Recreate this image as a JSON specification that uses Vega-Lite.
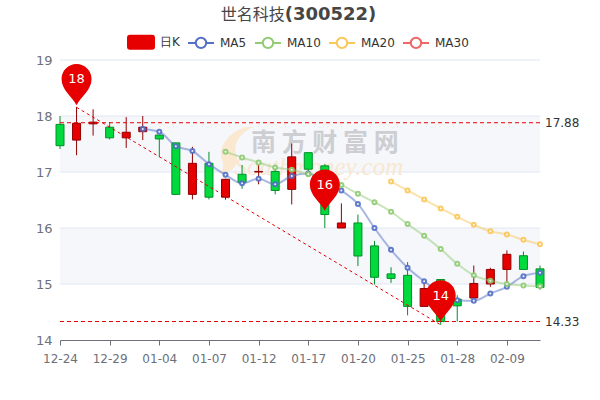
{
"$schema":"https://vega.github.io/schema/vega-lite/v6.json",
"width":480,"height":280,"autosize":"none","padding":{"left":60,"top":60,"right":60,"bottom":60},
"background":"white",
"config":{"view":{"stroke":null},"font":"DejaVu Sans","axisY":{"tickCount":5,"format":"d","grid":false,"domain":false,"ticks":false,"labelColor":"#6e7079","labelFontSize":13,"labelPadding":8}},
"datasets":{
"bands":[{"d":"12-24","d2":"02-18","a":17,"b":18},{"d":"12-24","d2":"02-18","a":15,"b":16}],
"grid":[{"d":"12-24","d2":"02-18","v":15},{"d":"12-24","d2":"02-18","v":16},{"d":"12-24","d2":"02-18","v":17},{"d":"12-24","d2":"02-18","v":18},{"d":"12-24","d2":"02-18","v":19}],
"k":[
{"d":"12-24","o":17.47,"c":17.85,"h":18.0,"l":17.41,"up":false},
{"d":"12-25","o":17.57,"c":17.87,"h":18.16,"l":17.3,"up":true},
{"d":"12-28","o":17.86,"c":17.89,"h":18.12,"l":17.65,"up":true},
{"d":"12-29","o":17.8,"c":17.61,"h":17.89,"l":17.58,"up":false},
{"d":"12-30","o":17.61,"c":17.71,"h":17.98,"l":17.43,"up":true},
{"d":"12-31","o":17.72,"c":17.8,"h":18.0,"l":17.57,"up":true},
{"d":"01-04","o":17.66,"c":17.59,"h":17.66,"l":17.27,"up":false},
{"d":"01-05","o":17.52,"c":16.6,"h":17.52,"l":16.6,"up":false},
{"d":"01-06","o":16.6,"c":17.155,"h":17.45,"l":16.51,"up":true},
{"d":"01-07","o":17.155,"c":16.55,"h":17.36,"l":16.51,"up":false},
{"d":"01-08","o":16.55,"c":16.87,"h":16.88,"l":16.505,"up":true},
{"d":"01-11","o":16.96,"c":16.81,"h":17.125,"l":16.7,"up":false},
{"d":"01-12","o":17.0,"c":17.01,"h":17.125,"l":16.78,"up":true},
{"d":"01-13","o":17.01,"c":16.67,"h":17.12,"l":16.6,"up":false},
{"d":"01-14","o":16.69,"c":17.27,"h":17.51,"l":16.42,"up":true},
{"d":"01-17","o":17.345,"c":17.05,"h":17.345,"l":16.95,"up":false},
{"d":"01-18","o":17.11,"c":16.24,"h":17.14,"l":16.0,"up":false},
{"d":"01-19","o":16.0,"c":16.09,"h":16.44,"l":16.0,"up":true},
{"d":"01-20","o":16.09,"c":15.5,"h":16.24,"l":15.32,"up":false},
{"d":"01-21","o":15.68,"c":15.12,"h":15.77,"l":14.99,"up":false},
{"d":"01-22","o":15.18,"c":15.1,"h":15.3,"l":15.02,"up":false},
{"d":"01-25","o":15.155,"c":14.6,"h":15.39,"l":14.44,"up":false},
{"d":"01-26","o":14.6,"c":14.92,"h":15.0,"l":14.6,"up":true},
{"d":"01-27","o":15.08,"c":14.33,"h":15.08,"l":14.27,"up":false},
{"d":"01-28","o":14.73,"c":14.61,"h":14.8,"l":14.33,"up":false},
{"d":"01-29","o":14.75,"c":15.01,"h":15.33,"l":14.75,"up":true},
{"d":"02-01","o":15.0,"c":15.26,"h":15.29,"l":14.95,"up":true},
{"d":"02-09","o":15.26,"c":15.53,"h":15.6,"l":15.02,"up":true},
{"d":"02-10","o":15.505,"c":15.26,"h":15.58,"l":15.26,"up":false},
{"d":"02-18","o":15.27,"c":14.94,"h":15.33,"l":14.9,"up":false}
],
"ma":[
{"d":"12-31","s":"MA5","v":17.77},{"d":"01-04","s":"MA5","v":17.72},{"d":"01-05","s":"MA5","v":17.46},{"d":"01-06","s":"MA5","v":17.375},{"d":"01-07","s":"MA5","v":17.14},{"d":"01-08","s":"MA5","v":16.95},{"d":"01-11","s":"MA5","v":16.8},{"d":"01-12","s":"MA5","v":16.88},{"d":"01-13","s":"MA5","v":16.78},{"d":"01-14","s":"MA5","v":16.93},{"d":"01-17","s":"MA5","v":16.975},{"d":"01-18","s":"MA5","v":16.84},{"d":"01-19","s":"MA5","v":16.67},{"d":"01-20","s":"MA5","v":16.43},{"d":"01-21","s":"MA5","v":16.0},{"d":"01-22","s":"MA5","v":15.61},{"d":"01-25","s":"MA5","v":15.29},{"d":"01-26","s":"MA5","v":15.05},{"d":"01-27","s":"MA5","v":14.84},{"d":"01-28","s":"MA5","v":14.71},{"d":"01-29","s":"MA5","v":14.7},{"d":"02-01","s":"MA5","v":14.83},{"d":"02-09","s":"MA5","v":14.95},{"d":"02-10","s":"MA5","v":15.14},{"d":"02-18","s":"MA5","v":15.2},
{"d":"01-08","s":"MA10","v":17.36},{"d":"01-11","s":"MA10","v":17.26},{"d":"01-12","s":"MA10","v":17.17},{"d":"01-13","s":"MA10","v":17.08},{"d":"01-14","s":"MA10","v":17.04},{"d":"01-17","s":"MA10","v":16.96},{"d":"01-18","s":"MA10","v":16.88},{"d":"01-19","s":"MA10","v":16.77},{"d":"01-20","s":"MA10","v":16.61},{"d":"01-21","s":"MA10","v":16.46},{"d":"01-22","s":"MA10","v":16.29},{"d":"01-25","s":"MA10","v":16.07},{"d":"01-26","s":"MA10","v":15.86},{"d":"01-27","s":"MA10","v":15.625},{"d":"01-28","s":"MA10","v":15.36},{"d":"01-29","s":"MA10","v":15.155},{"d":"02-01","s":"MA10","v":15.06},{"d":"02-09","s":"MA10","v":15.0},{"d":"02-10","s":"MA10","v":14.975},{"d":"02-18","s":"MA10","v":14.96},
{"d":"01-22","s":"MA20","v":16.83},{"d":"01-25","s":"MA20","v":16.67},{"d":"01-26","s":"MA20","v":16.51},{"d":"01-27","s":"MA20","v":16.35},{"d":"01-28","s":"MA20","v":16.2},{"d":"01-29","s":"MA20","v":16.06},{"d":"02-01","s":"MA20","v":15.94},{"d":"02-09","s":"MA20","v":15.885},{"d":"02-10","s":"MA20","v":15.79},{"d":"02-18","s":"MA20","v":15.71}
],
"hl":[{"d":"12-24","d2":"02-18","v":17.88,"t":"17.88"},{"d":"12-24","d2":"02-18","v":14.33,"t":"14.33"}],
"diag":[{"d":"12-25","v":18.155},{"d":"01-27","v":14.27}],
"pins":[{"d":"12-25","v":18.19,"t":"18"},{"d":"01-18","v":16.31,"t":"16"},{"d":"01-27","v":14.33,"t":"14"}]
},
"encoding":{"x":{"field":"d","type":"ordinal","title":null,"sort":null,
 "scale":{"type":"point","padding":0,"domain":["12-24","12-25","12-28","12-29","12-30","12-31","01-04","01-05","01-06","01-07","01-08","01-11","01-12","01-13","01-14","01-17","01-18","01-19","01-20","01-21","01-22","01-25","01-26","01-27","01-28","01-29","02-01","02-09","02-10","02-18"]},
 "axis":{"labelExpr":"indexof(['12-24','12-29','01-04','01-07','01-12','01-17','01-20','01-25','01-28','02-09'],datum.value)>=0?datum.label:''","tickOpacity":{"expr":"indexof(['12-24','12-29','01-04','01-07','01-12','01-17','01-20','01-25','01-28','02-09'],datum.value)>=0?1:0"},"labelAngle":0,"labelColor":"#6e7079","labelFontSize":12,"labelPadding":8,"labelOverlap":false,"labelBound":false,"labelFlush":false,"domainColor":"#6e7079","tickColor":"#6e7079","tickSize":5,"grid":false}}},
"layer":[
{"data":{"name":"bands"},"mark":{"type":"rect","fill":"#f6f7fb"},"encoding":{"x2":{"field":"d2"},
 "y":{"field":"a","type":"quantitative","title":null,"scale":{"domain":[14,19],"nice":false,"zero":false}},"y2":{"field":"b"}}},
{"data":{"name":"grid"},"mark":{"type":"rule","stroke":"#e0e6f1","strokeWidth":1},"encoding":{"x2":{"field":"d2"},"y":{"field":"v","type":"quantitative","title":null}}},
{"data":{"values":[{"d":"01-11","v":17.43}]},"mark":{"type":"point","filled":true,"fill":"#fbe6cc","stroke":null,"opacity":0.9,"size":3600,"shape":"M.37,-.7 C-.1,-.75 -.7,-.3 -.7,.2 C-.7,.45 -.5,.6 -.75,.85 C-.2,.8 -.1,.5 -.2,.2 C-.3,-.2 0,-.55 .37,-.7 Z"},"encoding":{"y":{"field":"v","type":"quantitative","title":null}}},
{"data":{"values":[{"d":"01-18","v":17.52,"t":"南 方 财 富 网"}]},"mark":{"type":"text","font":"Noto Sans CJK SC","fontWeight":"bold","fontSize":25,"fill":"#cdced2","align":"center","baseline":"middle"},"encoding":{"y":{"field":"v","type":"quantitative","title":null},"text":{"field":"t"}}},
{"data":{"values":[{"d":"01-18","v":17.09,"t":"Southmoney.com"}]},"mark":{"type":"text","font":"Liberation Serif","fontStyle":"italic","fontSize":25,"fill":"#f9e7cf","align":"center","baseline":"middle","dx":-6},"encoding":{"y":{"field":"v","type":"quantitative","title":null},"text":{"field":"t"}}},
{"data":{"name":"k"},"mark":{"type":"rule","strokeWidth":1},"encoding":{"y":{"field":"h","type":"quantitative","title":null},"y2":{"field":"l"},"stroke":{"condition":{"test":"datum.up","value":"#8f0000"},"value":"#008f28"}}},
{"data":{"name":"k"},"mark":{"type":"bar","size":8,"strokeWidth":1},"encoding":{"y":{"field":"o","type":"quantitative","title":null},"y2":{"field":"c"},"fill":{"condition":{"test":"datum.up","value":"#e60000"},"value":"#00da3c"},"stroke":{"condition":{"test":"datum.up","value":"#8f0000"},"value":"#008f28"}}},
{"data":{"name":"ma"},"mark":{"type":"line","interpolate":"monotone","strokeWidth":2,"opacity":0.5},"encoding":{"y":{"field":"v","type":"quantitative","title":null},"detail":{"field":"s"},
 "color":{"field":"s","type":"nominal","scale":{"domain":["日K","MA5","MA10","MA20","MA30"],"range":["#e60000","#5470c6","#91cc75","#fac858","#ee6666"]},
 "legend":{"title":null,"orient":"none","legendX":67,"legendY":-32,"direction":"horizontal","columns":5,"columnPadding":4,"labelFontSize":12,"labelColor":"#333333","labelOffset":5,"symbolSize":676,"symbolStrokeWidth":2,"symbolOpacity":1,
  "symbolType":"M-1,0 L-.4,0 A.4,.4 0 1 1 .4,0 A.4,.4 0 1 1 -.4,0 M.4,0 L1,0",
  "encode":{"symbols":{"update":{
   "shape":{"signal":"datum.value==='日K'?'M-.85,-.5 L.85,-.5 Q1,-.5 1,-.35 L1,.35 Q1,.5 .85,.5 L-.85,.5 Q-1,.5 -1,.35 L-1,-.35 Q-1,-.5 -.85,-.5 Z':'M-1,0 L-.4,0 A.4,.4 0 1 1 .4,0 A.4,.4 0 1 1 -.4,0 M.4,0 L1,0'"},
   "fill":{"signal":"datum.value==='日K'?'#e60000':'transparent'"},
   "stroke":{"signal":"datum.value==='日K'?'#8f0000':scale('color',datum.value)"}}}}}}}},
{"data":{"name":"ma"},"mark":{"type":"point","filled":true,"fill":"#ffffff","size":16,"strokeWidth":2,"opacity":0.9},"encoding":{"y":{"field":"v","type":"quantitative","title":null},"stroke":{"field":"s","type":"nominal","scale":{"domain":["日K","MA5","MA10","MA20","MA30"],"range":["#e60000","#5470c6","#91cc75","#fac858","#ee6666"]},"legend":null}}},
{"data":{"name":"hl"},"mark":{"type":"rule","stroke":"#e60000","strokeWidth":1,"strokeDash":[4,3]},"encoding":{"x2":{"field":"d2"},"y":{"field":"v","type":"quantitative","title":null}}},
{"data":{"name":"diag"},"mark":{"type":"line","stroke":"#e60000","strokeWidth":1,"strokeDash":[3,3]},"encoding":{"y":{"field":"v","type":"quantitative","title":null}}},
{"data":{"name":"hl"},"mark":{"type":"text","align":"left","baseline":"middle","dx":5,"fontSize":12,"fill":"#333333"},"encoding":{"x":{"field":"d2","type":"ordinal"},"y":{"field":"v","type":"quantitative","title":null},"text":{"field":"t"}}},
{"data":{"name":"pins"},"mark":{"type":"point","filled":true,"fill":"#e60000","stroke":null,"opacity":1,"size":900,"shape":"M0,0 C-.3,-.6 -1,-1 -1,-1.75 A1,1 0 1 1 1,-1.75 C1,-1 .3,-.6 0,0 Z"},"encoding":{"y":{"field":"v","type":"quantitative","title":null}}},
{"data":{"name":"pins"},"mark":{"type":"text","fill":"#ffffff","fontSize":13,"align":"center","baseline":"middle","dy":-26},"encoding":{"y":{"field":"v","type":"quantitative","title":null},"text":{"field":"t"}}},
{"data":{"values":[{"d":"01-14","v":19.8,"t":"世名科技"}]},"mark":{"type":"text","font":"Noto Sans CJK SC","fontSize":16,"fill":"#464646","align":"right","baseline":"middle","dx":-7},"encoding":{"y":{"field":"v","type":"quantitative","title":null},"text":{"field":"t"}}},
{"data":{"values":[{"d":"01-14","v":19.8,"t":"(300522)"}]},"mark":{"type":"text","fontWeight":"bold","fontSize":18,"fill":"#464646","align":"left","baseline":"middle","dx":-7},"encoding":{"y":{"field":"v","type":"quantitative","title":null},"text":{"field":"t"}}}
]
}
